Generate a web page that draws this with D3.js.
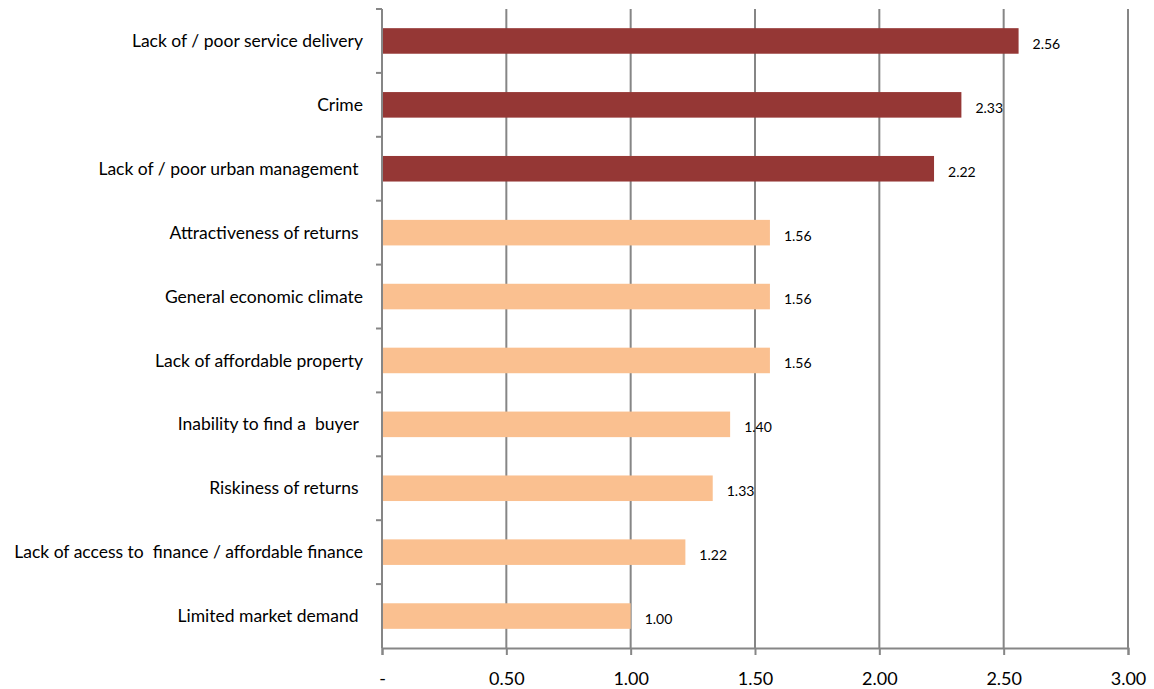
<!DOCTYPE html>
<html>
<head>
<meta charset="utf-8">
<script src="https://cdn.jsdelivr.net/npm/d3@7"></script>
<style>
  html, body { margin: 0; padding: 0; background: #fff; }
  svg { display: block; }
  text { font-family: Lato, "Open Sans", sans-serif; fill: #000; }
</style>
</head>
<body>
<svg id="chart" width="1154" height="689"></svg>
<script>
// Obstacles, top to bottom, with mean ratings
const categories = [
  "Lack of / poor service delivery",
  "Crime",
  "Lack of / poor urban management ",
  "Attractiveness of returns ",
  "General economic climate",
  "Lack of affordable property",
  "Inability to find a  buyer ",
  "Riskiness of returns ",
  "Lack of access to  finance / affordable finance",
  "Limited market demand "
];
const values = [2.56, 2.33, 2.22, 1.56, 1.56, 1.56, 1.40, 1.33, 1.22, 1.00];
const highlighted = [true, true, true, false, false, false, false, false, false, false];
const xTicks = [0, 0.5, 1, 1.5, 2, 2.5, 3];
const xTickLabels = ["-", "0.50", "1.00", "1.50", "2.00", "2.50", "3.00"];

const svg = d3.select("#chart");
const plotLeft = 382, plotRight = 1128, plotTop = 9, plotBottom = 648;
const gridColor = "#868686";

const x = d3.scaleLinear().domain([0, 3]).range([plotLeft, plotRight]);
const y = d3.scaleBand().domain(categories).range([plotTop, plotBottom]).paddingInner(0.6).paddingOuter(0.3);
const band = d3.scaleBand().domain(categories).range([plotTop, plotBottom]);

// Vertical gridlines
svg.append("g")
  .selectAll("line")
  .data(xTicks.slice(1))
  .join("line")
  .attr("x1", d => x(d)).attr("x2", d => x(d))
  .attr("y1", plotTop).attr("y2", plotBottom)
  .attr("stroke", gridColor).attr("stroke-width", 2);

// Bars
svg.append("g")
  .selectAll("rect")
  .data(categories)
  .join("rect")
  .attr("x", x(0))
  .attr("y", d => y(d))
  .attr("width", (d, i) => x(values[i]) - x(0))
  .attr("height", y.bandwidth())
  .attr("fill", (d, i) => highlighted[i] ? "#953735" : "#FAC090");

// Value labels
svg.append("g")
  .selectAll("text")
  .data(categories)
  .join("text")
  .attr("x", (d, i) => x(values[i]) + 14)
  .attr("y", d => y(d) + y.bandwidth() / 2 + 3)
  .attr("dy", "0.35em")
  .attr("font-size", 14)
  .text((d, i) => values[i].toFixed(2));

// X axis
const xAxis = svg.append("g")
  .attr("transform", `translate(0,${plotBottom})`)
  .call(d3.axisBottom(x).tickValues(xTicks).tickFormat((d, i) => xTickLabels[i]).tickSize(7).tickPadding(17));
xAxis.select(".domain").attr("stroke", gridColor).attr("stroke-width", 2);
xAxis.selectAll(".tick line").attr("stroke", gridColor).attr("stroke-width", 2);
xAxis.selectAll(".tick text").attr("font-size", 18).attr("font-family", "Lato, sans-serif");

// Y axis line and boundary ticks
svg.append("line")
  .attr("x1", plotLeft).attr("x2", plotLeft)
  .attr("y1", plotTop).attr("y2", plotBottom)
  .attr("stroke", gridColor).attr("stroke-width", 2);
const bounds = categories.map(d => band(d));
svg.append("g")
  .selectAll("line")
  .data(bounds)
  .join("line")
  .attr("x1", plotLeft - 6).attr("x2", plotLeft)
  .attr("y1", d => d).attr("y2", d => d)
  .attr("stroke", gridColor).attr("stroke-width", 2);

// Category labels
svg.append("g")
  .selectAll("text")
  .data(categories)
  .join("text")
  .attr("x", 363)
  .attr("y", d => band(d) + band.bandwidth() / 2)
  .attr("dy", "0.35em")
  .attr("text-anchor", "end")
  .attr("font-size", 17.5)
  .style("white-space", "pre")
  .text(d => d);
</script>
</body>
</html>
